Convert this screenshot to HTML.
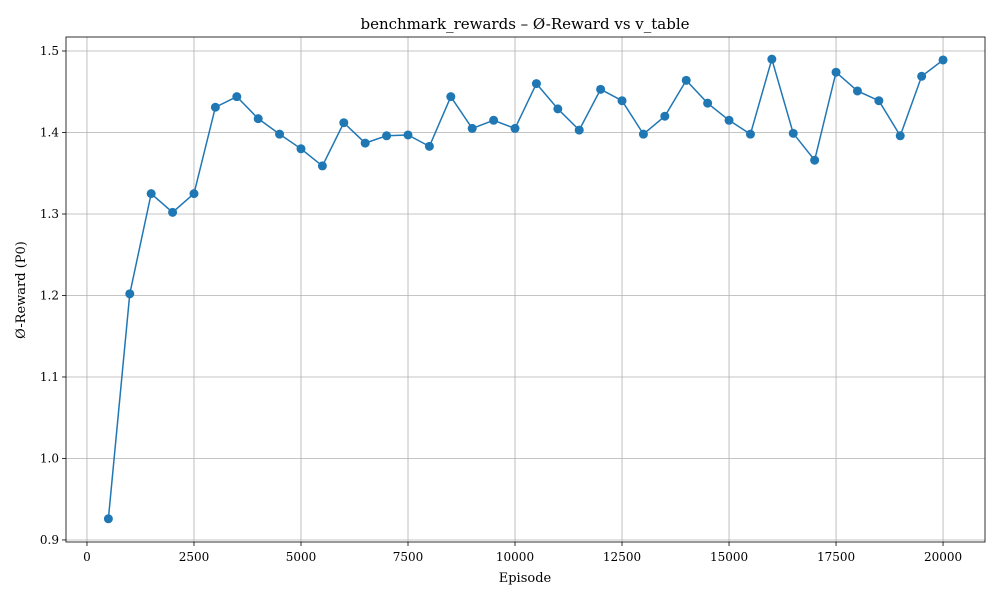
<!DOCTYPE html>
<html><head><meta charset="utf-8"><style>
body{margin:0;background:#fff;}
svg{display:block;font-family:"DejaVu Serif","Liberation Serif",serif;}
</style></head><body>
<svg id="chart" width="1000" height="600" xmlns="http://www.w3.org/2000/svg">
<rect width="1000" height="600" fill="#fff"/>
<g id="grid"></g>
<g id="axes"></g>
<g id="series"></g>
<text x="525" y="29" text-anchor="middle" font-size="15">benchmark_rewards – Ø-Reward vs v_table</text>
<text x="525" y="582" text-anchor="middle" font-size="13">Episode</text>
<text x="25" y="290" text-anchor="middle" font-size="13" transform="rotate(-90 25 290)">Ø-Reward (P0)</text>
</svg>
<script>
const episodes=[500,1000,1500,2000,2500,3000,3500,4000,4500,5000,5500,6000,6500,7000,7500,8000,8500,9000,9500,10000,10500,11000,11500,12000,12500,13000,13500,14000,14500,15000,15500,16000,16500,17000,17500,18000,18500,19000,19500,20000];
const rewards=[0.926,1.202,1.325,1.302,1.325,1.431,1.444,1.417,1.398,1.380,1.359,1.412,1.387,1.396,1.397,1.383,1.444,1.405,1.415,1.405,1.460,1.429,1.403,1.453,1.439,1.398,1.420,1.464,1.436,1.415,1.398,1.490,1.399,1.366,1.474,1.451,1.439,1.396,1.469,1.489];
const xTicks=[0,2500,5000,7500,10000,12500,15000,17500,20000];
const yTicks=[0.9,1.0,1.1,1.2,1.3,1.4,1.5];
const L=66,R=985,T=37,B=542;
const xMin=-490,xMax=20980,yMin=0.8975,yMax=1.5172;
const sx=v=>L+(v-xMin)/(xMax-xMin)*(R-L);
const sy=v=>B-(v-yMin)/(yMax-yMin)*(B-T);
const NS="http://www.w3.org/2000/svg";
function mk(t,a,p){const e=document.createElementNS(NS,t);for(const k in a)e.setAttribute(k,a[k]);p.appendChild(e);return e;}
const grid=document.getElementById('grid'),axes=document.getElementById('axes'),series=document.getElementById('series');
xTicks.forEach(v=>{const x=sx(v);
const g=mk('line',{x1:x,x2:x,y1:T,y2:B,stroke:'#b0b0b0','stroke-width':0.8},grid);


mk('line',{x1:x,x2:x,y1:B,y2:B+4,stroke:'#000','stroke-width':0.8},axes);
const t=mk('text',{x:x,y:B+19,'text-anchor':'middle','font-size':12},axes);t.textContent=v;

});
yTicks.forEach(v=>{const y=sy(v);
const g=mk('line',{x1:L,x2:R,y1:y,y2:y,stroke:'#b0b0b0','stroke-width':0.8},grid);


mk('line',{x1:L-4,x2:L,y1:y,y2:y,stroke:'#000','stroke-width':0.8},axes);
const t=mk('text',{x:L-7,y:y+4,'text-anchor':'end','font-size':12},axes);t.textContent=v.toFixed(1);

});
const fr=mk('rect',{x:L,y:T,width:R-L,height:B-T,fill:'none',stroke:'#000','stroke-width':0.8},axes);


const pts=episodes.map((e,i)=>sx(e)+','+sy(rewards[i])).join(' ');
const pl=mk('polyline',{points:pts,fill:'none',stroke:'#1f77b4','stroke-width':1.5},series);


episodes.forEach((e,i)=>{const c=mk('circle',{cx:sx(e),cy:sy(rewards[i]),r:4.5,fill:'#1f77b4'},series);

});
</script>
</body></html>
